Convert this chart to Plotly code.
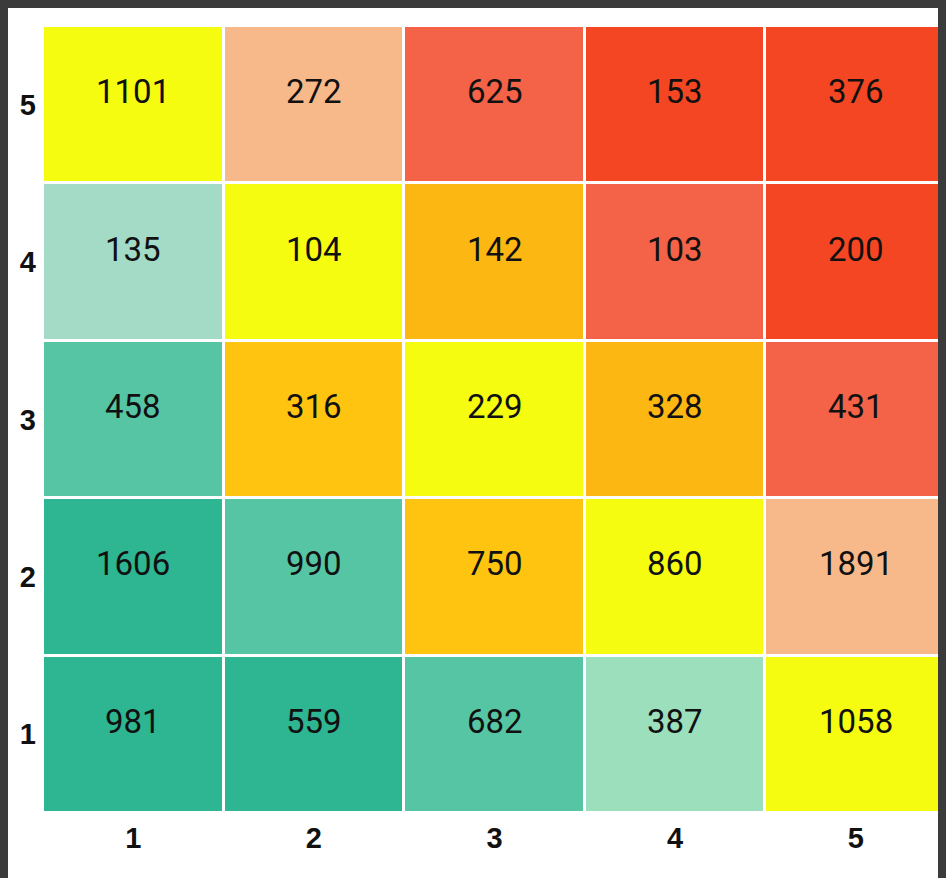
import plotly.graph_objects as go

# Axis categories
x_labels = ["1", "2", "3", "4", "5"]
y_labels = ["1", "2", "3", "4", "5"]

# Cell values (rows from y=1 bottom to y=5 top)
values = [
    [981, 559, 682, 387, 1058],
    [1606, 990, 750, 860, 1891],
    [458, 316, 229, 328, 431],
    [135, 104, 142, 103, 200],
    [1101, 272, 625, 153, 376],
]

# Colour class per cell (index into palette)
color_class = [
    [0, 0, 1, 3, 4],
    [0, 1, 5, 4, 7],
    [1, 5, 4, 6, 8],
    [2, 4, 6, 8, 9],
    [4, 7, 8, 9, 9],
]

palette = [
    "#2DB691",  # teal
    "#56C5A4",  # mid green
    "#A3DBC7",  # light green A
    "#9CDFBD",  # light green B
    "#F5FC10",  # yellow
    "#FEC410",  # light orange
    "#FCB713",  # orange
    "#F8B98A",  # peach
    "#F46248",  # coral
    "#F44622",  # red
]

n = len(palette)
colorscale = []
for i, c in enumerate(palette):
    colorscale.append([i / n, c])
    colorscale.append([(i + 1) / n, c])

fig = go.Figure(
    go.Heatmap(
        z=color_class,
        x=x_labels,
        y=y_labels,
        colorscale=colorscale,
        zmin=0,
        zmax=n,
        showscale=False,
        xgap=3,
        ygap=3,
        hoverinfo="skip",
    )
)

annotations = []
for ri, row in enumerate(values):
    for ci, v in enumerate(row):
        annotations.append(dict(
            x=ci, y=ri, xref="x", yref="y",
            text=str(v), showarrow=False, yshift=13,
            font=dict(family="Roboto", size=33, color="#111111"),
        ))

W, H = 946, 878
ml, mr, mt, mb = 35, 8, 18, 73

fig.update_layout(
    width=W,
    height=H,
    margin=dict(l=ml, r=mr, t=mt, b=mb, pad=0),
    paper_bgcolor="white",
    plot_bgcolor="white",
    annotations=annotations,
    xaxis=dict(
        type="category",
        range=[-0.5, len(x_labels) - 0.5],
        showgrid=False,
        zeroline=False,
        showline=False,
        ticks="",
        ticklabelstandoff=5,
        tickfont=dict(family="Liberation Sans", size=29, color="#111111", weight="bold"),
    ),
    yaxis=dict(
        type="category",
        range=[-0.5, len(y_labels) - 0.5],
        showgrid=False,
        zeroline=False,
        showline=False,
        ticks="",
        ticklabelstandoff=6,
        tickfont=dict(family="Liberation Sans", size=29, color="#111111", weight="bold"),
    ),
)

fig.write_html(
    "out.html",
    post_script="document.body.style.background='#3b3b3b';document.body.style.overflow='hidden';",
)
